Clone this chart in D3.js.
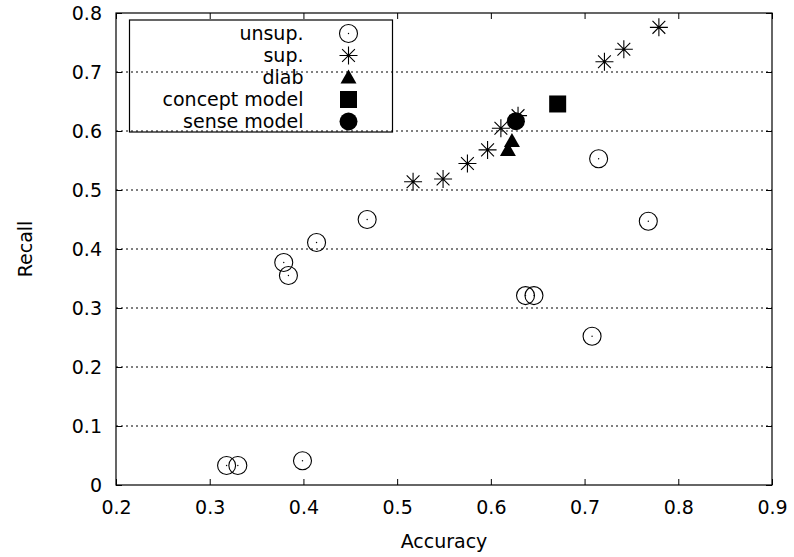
<!DOCTYPE html>
<html>
<head>
<meta charset="utf-8">
<script src="https://cdn.jsdelivr.net/npm/d3@7"></script>
<style>
  body { margin: 0; background: #fff; }
  text { font-family: "DejaVu Sans", sans-serif; }
</style>
</head>
<body>
<svg id="chart" width="794" height="557"></svg>
<script>
// data
const unsupAcc = [0.318, 0.330, 0.399, 0.379, 0.384, 0.414, 0.468, 0.637, 0.646, 0.708, 0.715, 0.768];
const unsupRec = [0.033, 0.033, 0.041, 0.377, 0.355, 0.411, 0.450, 0.321, 0.321, 0.252, 0.553, 0.447];
const supAcc = [0.517, 0.549, 0.575, 0.5965, 0.6107, 0.629, 0.7212, 0.7419, 0.7793];
const supRec = [0.514, 0.5186, 0.545, 0.568, 0.6046, 0.626, 0.7175, 0.7385, 0.7757];
const diabAcc = [0.6182, 0.6225];
const diabRec = [0.568, 0.583];
const conceptAcc = [0.6713];
const conceptRec = [0.6458];
const senseAcc = [0.6267];
const senseRec = [0.6166];
const xTicks = [0.2, 0.3, 0.4, 0.5, 0.6, 0.7, 0.8, 0.9];
const yTicks = [0, 0.1, 0.2, 0.3, 0.4, 0.5, 0.6, 0.7, 0.8];
const legendNames = ["unsup.", "sup.", "diab", "concept model", "sense model"];
const legendSymbols = ["circle", "star", "triangle", "square", "dot"];

const margin = { top: 13, right: 22, bottom: 72, left: 116 };
const svg = d3.select("#chart");
const width = 794 - margin.left - margin.right;
const height = 557 - margin.top - margin.bottom;
const fontSize = 19;

const g = svg.append("g").attr("transform", `translate(${margin.left},${margin.top})`);

const x = d3.scaleLinear().domain([0.2, 0.9]).range([0, width]);
const y = d3.scaleLinear().domain([0, 0.8]).range([height, 0]);

// dotted horizontal grid
g.selectAll(".grid")
  .data(yTicks.filter(d => d > 0 && d < 0.8))
  .join("line")
  .attr("x1", 0).attr("x2", width)
  .attr("y1", d => y(d)).attr("y2", d => y(d))
  .attr("stroke", "#000").attr("stroke-width", 1)
  .attr("stroke-dasharray", "2,3");

// axes with inward ticks, mirrored on top and right
const tickLen = 6;
const xAxis = g.append("g").attr("transform", `translate(0,${height})`)
  .call(d3.axisBottom(x).tickValues(xTicks).tickSizeInner(-tickLen).tickSizeOuter(0).tickPadding(16).tickFormat(d3.format("")));
const yAxis = g.append("g")
  .call(d3.axisLeft(y).tickValues(yTicks).tickSizeInner(-tickLen).tickSizeOuter(0).tickPadding(14).tickFormat(d => d === 0 ? "0" : d3.format(".1f")(d)));
const xTop = g.append("g")
  .call(d3.axisTop(x).tickValues(xTicks).tickSizeInner(-tickLen).tickSizeOuter(0).tickFormat(""));
const yRight = g.append("g").attr("transform", `translate(${width},0)`)
  .call(d3.axisRight(y).tickValues(yTicks).tickSizeInner(-tickLen).tickSizeOuter(0).tickFormat(""));

[xAxis, yAxis, xTop, yRight].forEach(a => {
  a.select(".domain").remove();
  a.selectAll("line").attr("stroke", "#000");
  a.selectAll("text")
    .style("font-size", fontSize + "px")
    .style("font-family", "'DejaVu Sans', sans-serif")
    .attr("fill", "#000");
});

g.append("rect")
  .attr("width", width).attr("height", height)
  .attr("fill", "none").attr("stroke", "#000").attr("stroke-width", 1.2);

// axis titles
g.append("text")
  .attr("x", width / 2).attr("y", height + 63)
  .attr("text-anchor", "middle")
  .attr("font-size", fontSize)
  .text("Accuracy");
g.append("text")
  .attr("transform", `translate(-84,${height / 2}) rotate(-90)`)
  .attr("text-anchor", "middle")
  .attr("font-size", fontSize)
  .text("Recall");

// markers
function drawSymbol(sel, type) {
  if (type === "circle") {
    sel.append("circle").attr("r", 9).attr("fill", "none").attr("stroke", "#000").attr("stroke-width", 1.1);
    sel.append("circle").attr("r", 0.7).attr("fill", "#000");
  } else if (type === "star") {
    const s = 9, d = 6.4;
    sel.append("path")
      .attr("d", `M${-s},0H${s}M0,${-s}V${s}M${-d},${-d}L${d},${d}M${-d},${d}L${d},${-d}`)
      .attr("stroke", "#000").attr("stroke-width", 1.1).attr("fill", "none");
  } else if (type === "triangle") {
    sel.append("path").attr("d", "M0,-8L8,6L-8,6Z").attr("fill", "#000");
  } else if (type === "square") {
    sel.append("rect").attr("x", -8.5).attr("y", -8.5).attr("width", 17).attr("height", 17).attr("fill", "#000");
  } else if (type === "dot") {
    sel.append("circle").attr("r", 9).attr("fill", "#000");
  }
}

const series = [
  { acc: unsupAcc, rec: unsupRec, type: "circle" },
  { acc: supAcc, rec: supRec, type: "star" },
  { acc: diabAcc, rec: diabRec, type: "triangle" },
  { acc: conceptAcc, rec: conceptRec, type: "square" },
  { acc: senseAcc, rec: senseRec, type: "dot" }
];

series.forEach(s => {
  const pts = s.acc.map((a, i) => ({ a, r: s.rec[i] }));
  g.append("g").selectAll("g")
    .data(pts)
    .join("g")
    .attr("transform", d => `translate(${x(d.a)},${y(d.r)})`)
    .each(function () { drawSymbol(d3.select(this), s.type); });
});

// legend (transparent box)
const legend = svg.append("g").attr("transform", "translate(129.5,20)");
legend.append("rect")
  .attr("width", 263).attr("height", 112)
  .attr("fill", "none").attr("stroke", "#000").attr("stroke-width", 1.2);
legendNames.forEach((name, i) => {
  const row = legend.append("g").attr("transform", `translate(0,${13.5 + i * 22})`);
  row.append("text")
    .attr("x", 174).attr("y", 0).attr("dy", "0.35em")
    .attr("text-anchor", "end")
    .attr("font-size", fontSize)
    .text(name);
  const sym = row.append("g").attr("transform", "translate(219,0)");
  drawSymbol(sym, legendSymbols[i]);
});
</script>
</body>
</html>
